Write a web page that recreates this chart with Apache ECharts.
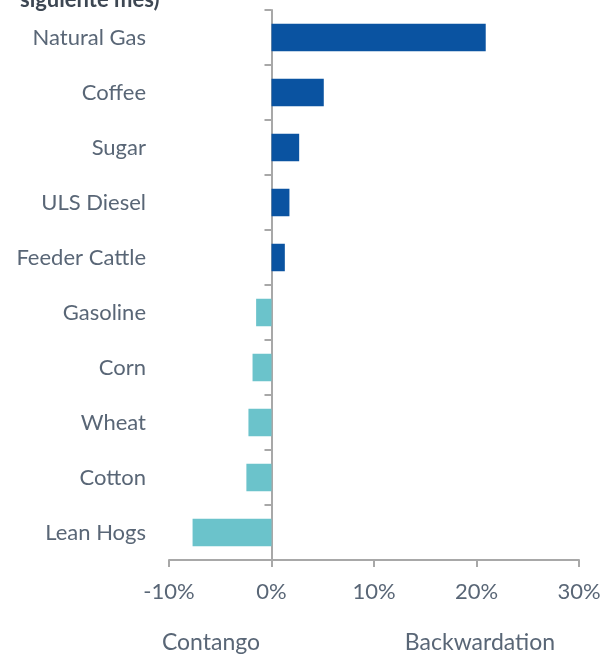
<!DOCTYPE html>
<html><head><meta charset="utf-8">
<script src="https://cdn.jsdelivr.net/npm/echarts@6/dist/echarts.min.js"></script>
<style>html,body{margin:0;padding:0;background:#fff}#c{width:604px;height:654px}</style>
</head><body><div id="c"></div>
<script>
var categories = ['Natural Gas','Coffee','Sugar','ULS Diesel','Feeder Cattle','Gasoline','Corn','Wheat','Cotton','Lean Hogs'];
var values = [20.9, 5.1, 2.7, 1.75, 1.3, -1.5, -1.85, -2.25, -2.45, -7.7];
var xTicks = [-10, 0, 10, 20, 30];
var titleText = 'siguiente mes)';
var leftNote = 'Contango';
var rightNote = 'Backwardation';

var textColor = '#596676';
var axisColor = '#a8a8a8';
var chart = echarts.init(document.getElementById('c'), null, {renderer:'canvas'});
chart.setOption({
  animation:false,
  grid:{left:169, top:10, width:410, height:550, containLabel:false, outerBoundsMode:'none'},
  xAxis:{type:'value', min:xTicks[0], max:xTicks[xTicks.length-1], interval:10,
    axisLine:{show:true, lineStyle:{color:axisColor, width:2}},
    axisTick:{show:true, length:7, lineStyle:{color:axisColor, width:2}},
    splitLine:{show:false},
    axisLabel:{formatter:'{value}%', color:textColor, fontFamily:'Lato', fontSize:22, margin:21}
  },
  yAxis:{type:'category', inverse:true, data:categories,
    axisLine:{show:true, onZero:true, lineStyle:{color:axisColor, width:2}},
    axisTick:{show:true, length:7, lineStyle:{color:axisColor, width:2}},
    axisLabel:{color:textColor, fontFamily:'Lato', fontSize:22, margin:23, align:'right'}
  },
  series:[{type:'bar', data:values.map(function(v){return {value:v, itemStyle:{color: v>=0 ? '#0a53a1' : '#6bc3cb'}};}),
    barWidth:'50%'}],
  graphic:[
    {type:'text', x:20, y:-11, style:{text:titleText, fill:'#3d4753', font:'bold 22px Lato'}},
    {type:'text', x:211, y:643, style:{text:leftNote, fill:textColor, font:'23px Lato', align:'center', verticalAlign:'middle'}},
    {type:'text', x:480, y:643, style:{text:rightNote, fill:textColor, font:'23px Lato', align:'center', verticalAlign:'middle'}}
  ]
});
</script></body></html>
